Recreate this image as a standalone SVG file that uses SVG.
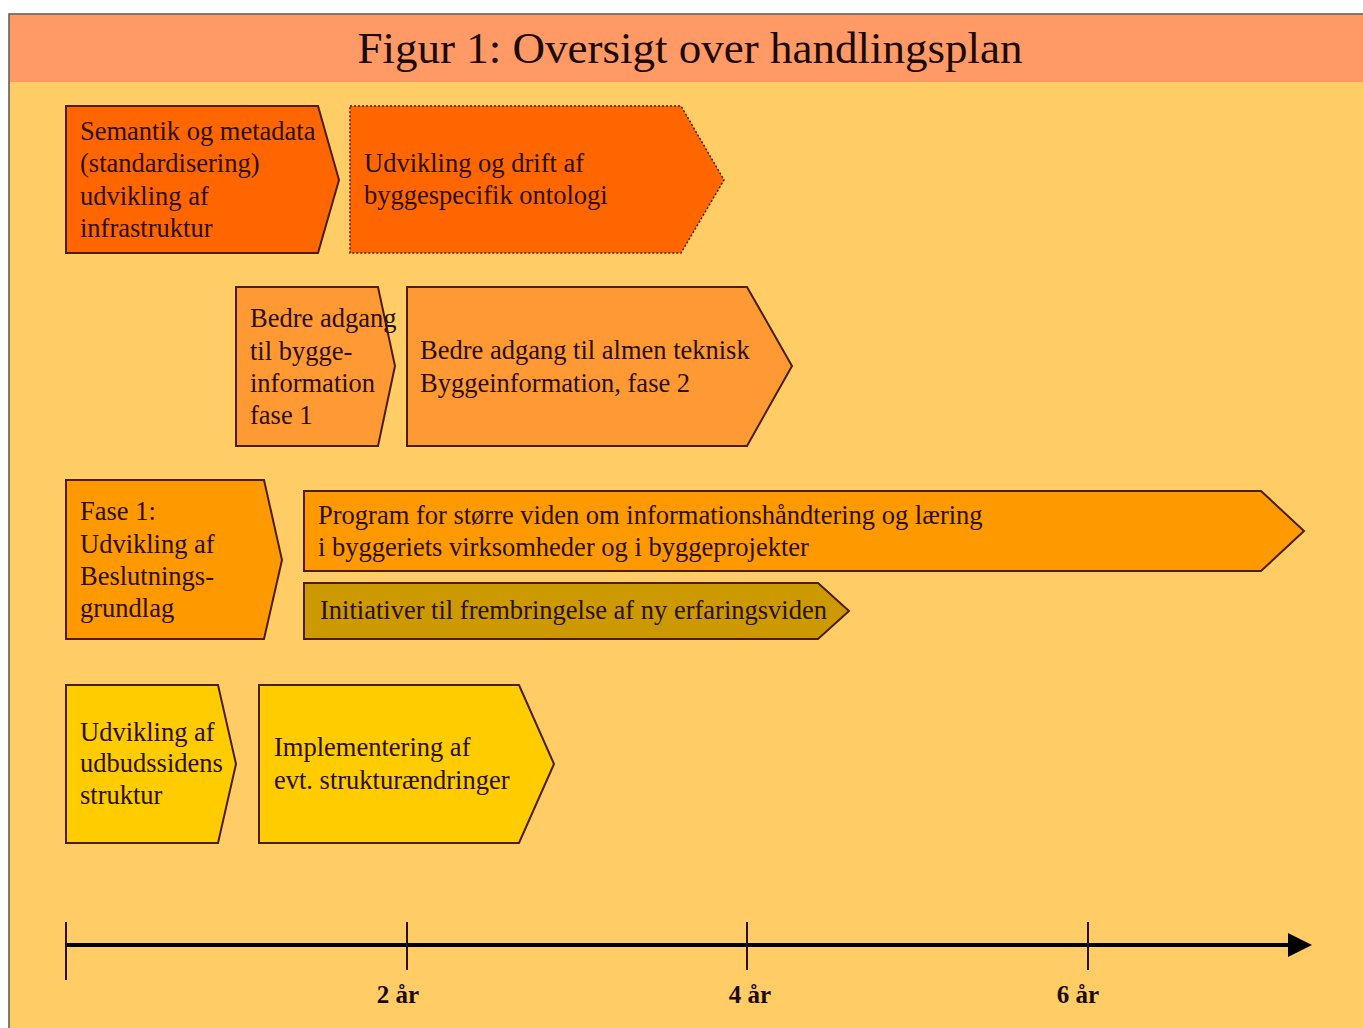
<svg xmlns="http://www.w3.org/2000/svg" width="1363" height="1028" viewBox="0 0 1363 1028">
<defs>
<style>
.box{stroke:#4a1e00;stroke-width:2;stroke-linejoin:miter}
.dot{stroke:#4a1e00;stroke-width:1.5;stroke-dasharray:2 2}
.t{font-family:"Liberation Serif","Times New Roman",serif;font-size:26.5px;fill:#2a1000}
.ax{font-family:"Liberation Serif","Times New Roman",serif;font-size:25px;font-weight:bold;fill:#1a0a00}
.tick{stroke:#2a1000;stroke-width:2}
</style>
<marker id="ah" markerWidth="6" markerHeight="6" refX="1" refY="3" orient="auto" markerUnits="strokeWidth">
<path d="M0,0 L6,3 L0,6 Z" fill="#000"/>
</marker>
</defs>
<rect x="0" y="0" width="1363" height="1028" fill="#ffffff"/>
<rect x="9" y="14" width="1360" height="1020" fill="#FFCC66" stroke="#555" stroke-width="1.5"/>
<rect x="10" y="15" width="1353" height="67" fill="#FF9966"/>
<text x="690" y="63" text-anchor="middle" font-family="Liberation Serif, Times New Roman, serif" font-size="45" fill="#1a0a00">Figur 1: Oversigt over handlingsplan</text>

<g id="n1">
<polygon class="box" points="66,106 318,106 339,180 318,253 66,253" fill="#FF6600"/>
<text class="t" x="80" y="140">Semantik og metadata</text>
<text class="t" x="80" y="172">(standardisering)</text>
<text class="t" x="80" y="205">udvikling af</text>
<text class="t" x="80" y="237">infrastruktur</text>
</g>
<g id="n2">
<polygon class="dot" points="350,106 681,106 724,180 681,253 350,253" fill="#FF6600"/>
<text class="t" x="364" y="172">Udvikling og drift af</text>
<text class="t" x="364" y="204">byggespecifik ontologi</text>
</g>
<g id="n3">
<polygon class="box" points="236,287 378,287 395,366 378,446 236,446" fill="#FF9933"/>
<text class="t" x="250" y="327">Bedre adgang</text>
<text class="t" x="250" y="360">til bygge-</text>
<text class="t" x="250" y="392">information</text>
<text class="t" x="250" y="424">fase 1</text>
</g>
<g id="n4">
<polygon class="box" points="407,287 747,287 792,366 747,446 407,446" fill="#FF9933"/>
<text class="t" x="420" y="359">Bedre adgang til almen teknisk</text>
<text class="t" x="420" y="392">Byggeinformation, fase 2</text>
</g>
<g id="n5">
<polygon class="box" points="66,480 264,480 282,560 264,639 66,639" fill="#FF9900"/>
<text class="t" x="80" y="520">Fase 1:</text>
<text class="t" x="80" y="553">Udvikling af</text>
<text class="t" x="80" y="585">Beslutnings-</text>
<text class="t" x="80" y="617">grundlag</text>
</g>
<g id="n6">
<polygon class="box" points="304,491 1261,491 1304,531 1261,571 304,571" fill="#FF9900"/>
<text class="t" x="318" y="524">Program for større viden om informationshåndtering og læring</text>
<text class="t" x="318" y="556">i byggeriets virksomheder og i byggeprojekter</text>
</g>
<g id="n7">
<polygon class="box" points="304,583 818,583 849,611 818,639 304,639" fill="#CC9900"/>
<text class="t" x="320" y="619">Initiativer til frembringelse af ny erfaringsviden</text>
</g>
<g id="n8">
<polygon class="box" points="66,685 218,685 236,764 218,843 66,843" fill="#FFCC00"/>
<text class="t" x="80" y="741">Udvikling af</text>
<text class="t" x="80" y="772">udbudssidens</text>
<text class="t" x="80" y="804">struktur</text>
</g>
<g id="n9">
<polygon class="box" points="259,685 519,685 554,764 519,843 259,843" fill="#FFCC00"/>
<text class="t" x="274" y="756">Implementering af</text>
<text class="t" x="274" y="789">evt. strukturændringer</text>
</g>

<g id="connectors">
<line x1="66" y1="945" x2="1292" y2="945" stroke="#000" stroke-width="4" marker-end="url(#ah)"/>
<line class="tick" x1="66" y1="922" x2="66" y2="980"/>
<line class="tick" x1="407" y1="922" x2="407" y2="970"/>
<line class="tick" x1="747" y1="922" x2="747" y2="970"/>
<line class="tick" x1="1088" y1="922" x2="1088" y2="970"/>
</g>
<text class="ax" x="398" y="1003" text-anchor="middle">2 år</text>
<text class="ax" x="750" y="1003" text-anchor="middle">4 år</text>
<text class="ax" x="1078" y="1003" text-anchor="middle">6 år</text>
</svg>
